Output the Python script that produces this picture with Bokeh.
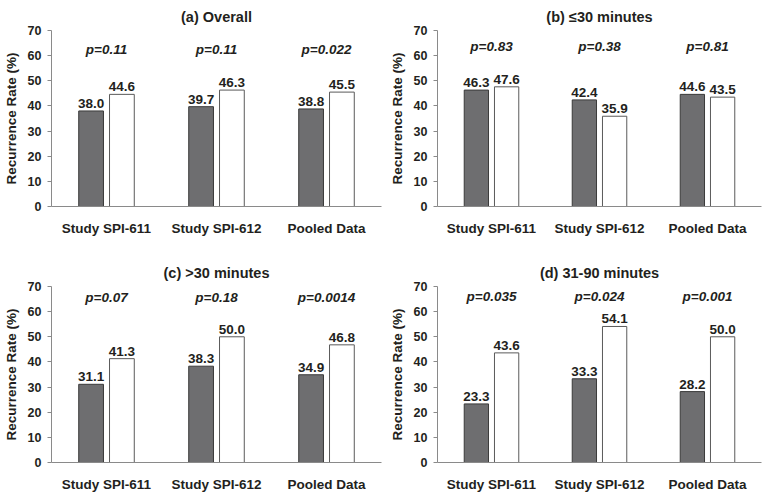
from bokeh.plotting import figure
from bokeh.layouts import column, row
from bokeh.models import FactorRange, Range1d, ColumnDataSource, FixedTicker
from bokeh.transform import dodge
from bokeh.core.properties import value
from bokeh.embed import file_html
from bokeh.resources import INLINE

categories = ["Study SPI-611", "Study SPI-612", "Pooled Data"]

titles = ["(a) Overall", "(b) \u226430 minutes", "(c) >30 minutes", "(d) 31-90 minutes"]

overall_grey = [38.0, 39.7, 38.8]
overall_white = [44.6, 46.3, 45.5]
overall_p = ["p=0.11", "p=0.11", "p=0.022"]

le30_grey = [46.3, 42.4, 44.6]
le30_white = [47.6, 35.9, 43.5]
le30_p = ["p=0.83", "p=0.38", "p=0.81"]

gt30_grey = [31.1, 38.3, 34.9]
gt30_white = [41.3, 50.0, 46.8]
gt30_p = ["p=0.07", "p=0.18", "p=0.0014"]

m3190_grey = [23.3, 33.3, 28.2]
m3190_white = [43.6, 54.1, 50.0]
m3190_p = ["p=0.035", "p=0.024", "p=0.001"]

y_ticks = [0, 10, 20, 30, 40, 50, 60, 70]

FONT = "Liberation Sans"
TXT = "#231f20"
AX = "#8a8a8a"


def make_panel(title, grey, white, pvals, p_y, fw, fh, bl, br, bt, bb, standoff):
    p = figure(x_range=FactorRange(*categories), y_range=Range1d(0, 70),
               frame_width=fw, frame_height=fh, output_backend="svg",
               toolbar_location=None, min_border_left=bl, min_border_right=br,
               min_border_top=bt, min_border_bottom=bb, title=title)
    p.outline_line_color = None
    p.grid.visible = False
    p.background_fill_color = "white"
    p.border_fill_color = "white"

    p.title.align = "center"
    p.title.text_font = FONT
    p.title.text_font_size = "14.5px"
    p.title.text_font_style = "bold"
    p.title.text_color = TXT
    p.title.standoff = standoff

    src = ColumnDataSource(dict(
        cat=categories, grey=grey, white=white,
        gl=[f"{v:.1f}" for v in grey], wl=[f"{v:.1f}" for v in white],
        p=pvals, py=[p_y] * len(categories)))

    gx = dodge("cat", -0.14, range=p.x_range)
    wx = dodge("cat", 0.14, range=p.x_range)
    p.vbar(x=gx, top="grey", width=0.225, source=src,
           fill_color="#6e6e70", line_color="#3a3a3a", line_width=1)
    p.vbar(x=wx, top="white", width=0.225, source=src,
           fill_color="white", line_color="#5a5a5a", line_width=1)

    for xx, yy, tt in ((gx, "grey", "gl"), (wx, "white", "wl")):
        p.text(x=xx, y=yy, text=tt, source=src, text_align="center",
               text_baseline="bottom", y_offset=-3,
               text_font=value(FONT), text_font_style="bold",
               text_font_size=value("13.5px"), text_color=TXT)

    p.text(x="cat", y="py", text="p", source=src, text_align="center",
           text_baseline="middle", text_font=value(FONT),
           text_font_style="bold italic", text_font_size=value("13.5px"),
           text_color=TXT)

    ya = p.yaxis[0]
    ya.ticker = FixedTicker(ticks=y_ticks)
    ya.axis_line_color = AX
    ya.major_tick_line_color = AX
    ya.major_tick_out = 4
    ya.major_tick_in = 0
    ya.minor_tick_line_color = None
    ya.major_label_text_font = FONT
    ya.major_label_text_font_style = "bold"
    ya.major_label_text_font_size = "12.5px"
    ya.major_label_text_color = TXT
    ya.major_label_standoff = 6
    ya.axis_label = "Recurrence Rate (%)"
    ya.axis_label_text_font = FONT
    ya.axis_label_text_font_style = "bold"
    ya.axis_label_text_font_size = "13.5px"
    ya.axis_label_text_color = TXT
    ya.axis_label_standoff = 6

    xa = p.xaxis[0]
    xa.axis_line_color = AX
    xa.major_tick_line_color = None
    xa.minor_tick_line_color = None
    xa.major_label_text_font = FONT
    xa.major_label_text_font_style = "bold"
    xa.major_label_text_font_size = "13.5px"
    xa.major_label_text_color = TXT
    xa.major_label_standoff = 8
    return p


pa = make_panel(titles[0], overall_grey, overall_white, overall_p, 62.5,
                330, 176, 38, 4, 0, 32, 12)
pb = make_panel(titles[1], le30_grey, le30_white, le30_p, 63.5,
                324, 176, 52, 3, 0, 32, 12)
pc = make_panel(titles[2], gt30_grey, gt30_white, gt30_p, 65.8,
                330, 176, 38, 4, 48, 26, 12)
pd = make_panel(titles[3], m3190_grey, m3190_white, m3190_p, 66.0,
                324, 176, 52, 3, 48, 26, 12)

layout = column(row(pa, pb), row(pc, pd))
open("out.html", "w").write(file_html(layout, INLINE))
